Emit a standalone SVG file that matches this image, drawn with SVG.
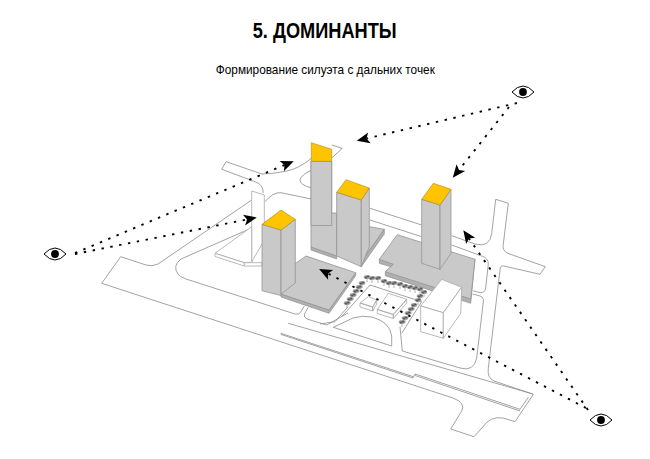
<svg xmlns="http://www.w3.org/2000/svg" width="650" height="459" viewBox="0 0 650 459">
  <style>
    text { font-family: "Liberation Sans", Arial, sans-serif; fill: #000; text-anchor: middle; }
    .road { fill: none; stroke: #8c8c8c; stroke-width: 0.8; stroke-linejoin: round; }
    .pale { fill: #fff; stroke: #a8a8a8; stroke-width: 0.8; stroke-linejoin: round; }
    .mass { fill: #c9c9c9; stroke: #949494; stroke-width: 0.8; stroke-linejoin: round; }
    .edge { fill: #b0b0b0; stroke: #8f8f8f; stroke-width: 0.7; stroke-linejoin: round; }
    .roof { fill: #ffc400; stroke: #a98b20; stroke-width: 0.6; stroke-linejoin: round; }
    .sight { fill: none; stroke: #000; stroke-width: 1.9; stroke-dasharray: 2.4 6.6; marker-end: url(#head); }
    .tree-top { fill: #5a5a5a; }
    .tree-light { fill: #a5a5a5; }
    .tree-stem { stroke: #808080; stroke-width: 0.6; }
  </style>
  <defs>
    <marker id="head" markerUnits="userSpaceOnUse" markerWidth="16" markerHeight="14" viewBox="-1 -7 16 14" refX="3" refY="0" orient="auto">
      <path d="M13 0 L0 -5.500 L3 0 L0 5.500 Z" fill="#000"/>
    </marker>
    <g id="tree">
      <line class="tree-stem" x1="0" y1="0" x2="0" y2="5"/>
      <ellipse class="tree-light" cx="0" cy="0" rx="3.300" ry="2"/>
      <ellipse class="tree-top" cx="-1" cy="0.400" rx="1.400" ry="1"/>
      <ellipse class="tree-top" cx="1.200" cy="-0.500" rx="1.300" ry="0.900"/>
    </g>
    <g id="eye-mark">
      <path d="M-11 0 Q0 -12 11 0 Q0 12 -11 0 Z" fill="#fff" stroke="#000" stroke-width="1"/>
      <circle r="3.900" fill="#000"/>
    </g>
  </defs>

  <g id="heading">
    <text x="324.700" y="37.700" font-size="22.300" font-weight="700" textLength="144" lengthAdjust="spacingAndGlyphs">5. ДОМИНАНТЫ</text>
    <text x="325.300" y="74.300" font-size="13" textLength="219" lengthAdjust="spacingAndGlyphs">Формирование силуэта с дальних точек</text>
  </g>

  <g id="street-network">
    <!-- outer carriageway, south-west to the south-east stub -->
    <path class="road" d="M251.700 200 L158 264 Q152 267 146 265 L120.700 256.700 L101.700 283.300 L453 398 Q466 403 461.700 411 L450.700 429 L474 436.700 L483 426.700 Q490 416 503 418 L515 421.700 L533.300 394.300 L494 381 Q487 378 488.300 368 L500 270 Q500 265 504 266 L540 274.300 L545.300 266.700 L507 253 Q502 250 503.300 244 L508.300 203.300 L495.700 199.300 L491.700 233.300 Q490 248 475 244 L451.700 235.700"/>
    <path class="road" d="M421.700 225 L370 208.300"/>
    <path class="road" d="M451.700 245 L481.700 256 Q488.500 258 488.300 264 L485.700 288 Q485 293 480 292.700 L472.700 290.700"/>
    <path class="road" d="M421.700 236.700 L370 220"/>
    <path class="road" d="M472.700 294 L480 296 Q484 297 483.300 302 L476.700 358 Q474 372 460 368 L402.300 351 L400 326.700"/>
    <!-- inner loop round the west podium -->
    <path class="road" d="M251.700 228 L181 259 Q172 266 178 274 Q180 277 186 279 L295 314 Q299 315 300.500 312.500 L304.300 306"/>
    <path class="road" d="M308.300 307.300 L304.500 314 Q303.500 317.500 307 319 L326.700 325 L348 313"/>
    <!-- frontage and rail strip -->
    <path class="road" d="M288.300 323.300 L533 394"/>
    <path class="road" d="M280.700 333.300 L413.300 376.700 M415 374 L520 409.300 L528.300 397.300"/>
    <path class="road" d="M280.700 334.300 L413 378 L415 374 M415 375.500 L520 411"/>
    <!-- northern spur beside the tall tower -->
    <path class="road" d="M311.700 158 Q300 168 287 171 Q276 173.500 262 174 L226 161.700 L221.700 169.300 L255 181.700 Q264 185 263 193"/>
    <path class="road" d="M331.700 145 L342.300 148.300 L331.700 158"/>
    <path class="road" d="M311.700 170 Q301 175 300 180 Q300 185 311.700 188"/>
    <path class="road" d="M265 201.700 Q273 192 281 192.700 L311.300 199"/>
    <!-- plaza kerbs -->
    <path class="road" d="M333.300 327.300 L353 318 Q362 315 372 317 Q390 322 391.700 336 L391.700 346 Z"/>
    <path class="road" d="M320 324 L335 321.700 L348 306.700"/>
    <path class="road" d="M370 285 L341.700 316.700"/>
    <path class="road" d="M370 285 L421.700 301.700 L401.700 333.300"/>
  </g>

  <g id="distant-block">
    <path class="pale" d="M251.700 191 L264.300 195 L264.300 240 L251.700 262 Z"/>
    <path class="pale" d="M215 253.300 L251.700 226.700 L251.700 262.700 L244.300 262.700 Z"/>
    <path class="pale" d="M215 253.300 L244.300 262.700 L244.300 266 L215 256.500 Z"/>
    <path class="pale" d="M244.300 266 L262 266 L262 262.700 L244.300 262.700 Z"/>
  </g>

  <g id="plaza-blocks">
    <path class="pale" d="M368.300 296.700 L376.700 300 L372.700 307 L360 303 Z M360 303 L372.700 307 L372.700 311 L360 307 Z M372.700 307 L376.700 300 L376.700 304 L372.700 311 Z"/>
    <path class="pale" d="M388.300 293.300 L406.700 299.300 L393.300 314.500 L377.300 309.500 Z M377.300 309.500 L393.300 314.500 L393.300 318.500 L377.300 313.500 Z M393.300 314.500 L406.700 299.300 L406.700 303 L393.300 318.500 Z"/>
  </g>

  <g id="tower-centre-rear">
    <path class="edge" d="M311 247 L336.700 256 L336.700 259 L311 250 Z"/>
    <path class="mass" d="M311 161.300 L331.700 161.300 L331.700 213 L336.700 213 L336.700 256 L311 247 Z"/>
    <path class="mass" d="M311 161.300 L331.700 161.300 L331.700 225.500 L311 225.500 Z"/>
    <path class="roof" d="M311.300 142.700 L331.700 149.300 L331.700 161.300 L311.300 161.300 Z"/>
  </g>

  <g id="tower-centre-front">
    <path class="mass" d="M369.300 226.700 L384.300 229.300 L361.300 262 L361.300 240 Z"/>
    <path class="edge" d="M384.300 229.300 L384.300 234 L361.300 266.700 L361.300 262 Z"/>
    <path class="mass" d="M336.700 192.300 L361.300 200 L361.300 266.700 L336.700 256 Z"/>
    <path class="mass" d="M361.300 200 L369.300 188 L369.300 246.700 L361.300 266.700 Z"/>
    <path class="roof" d="M346 179.700 L369.300 188 L361.300 200 L336.700 192.300 Z"/>
  </g>

  <g id="tower-east">
    <path class="edge" d="M379.300 259.300 L379.300 263.300 L393.300 267.500 L385.300 271.700 L385.300 275.700 L470.700 303.300 L475 259.300 Z"/>
    <path class="mass" d="M397.300 234.700 L475 259.300 L470.700 299 L385.300 271.700 L393.300 264.300 L379.300 259.300 Z"/>
    <path class="mass" d="M421.700 199.300 L440 205 L440 269.300 L421.700 263.300 Z"/>
    <path class="mass" d="M440 205 L451 189.300 L451 253.300 L440 269.300 Z"/>
    <path class="roof" d="M433.300 183.300 L451 189.300 L440 205 L421.700 199.300 Z"/>
  </g>

  <g id="tower-west">
    <path class="edge" d="M281 294 L329 310 L355.700 272.700 L355.700 275.700 L329 313.300 L281 297 Z"/>
    <path class="mass" d="M306 256 L355.700 272.700 L329 310 L281 294 L295.300 263.500 Z"/>
    <path class="mass" d="M262 224.300 L281 230 L281 295.500 L262 290.700 Z"/>
    <path class="mass" d="M281 230 L295.300 219.300 L295.300 283 L281 294 Z"/>
    <path class="roof" d="M281 210 L295.300 219.300 L281 230 L262 224.300 Z"/>
  </g>

  <g id="white-building">
    <path class="pale" d="M441.700 279.300 L461.700 287.300 L443.300 312.700 L420.700 306 Z"/>
    <path class="pale" d="M420.700 306 L443.300 312.700 L443.300 338.300 L420.700 331.700 Z"/>
    <path class="pale" d="M443.300 312.700 L461.700 287.300 L460.700 313.300 L443.300 338.300 Z"/>
  </g>

  <g id="tree-rows">
    <use href="#tree" x="367" y="277"/><use href="#tree" x="372" y="278"/><use href="#tree" x="378" y="278"/><use href="#tree" x="384" y="281"/><use href="#tree" x="389" y="283"/><use href="#tree" x="394" y="283"/><use href="#tree" x="400" y="284"/><use href="#tree" x="405" y="286"/><use href="#tree" x="410" y="287"/><use href="#tree" x="415" y="288"/><use href="#tree" x="420" y="289"/><use href="#tree" x="424" y="292"/>
    <use href="#tree" x="362" y="283"/><use href="#tree" x="359" y="287"/><use href="#tree" x="356" y="291"/><use href="#tree" x="353" y="295"/><use href="#tree" x="350" y="299"/><use href="#tree" x="347" y="303"/>
    <use href="#tree" x="420" y="296"/><use href="#tree" x="418" y="300"/><use href="#tree" x="414" y="305"/><use href="#tree" x="411" y="309"/><use href="#tree" x="408" y="313"/><use href="#tree" x="405" y="318"/><use href="#tree" x="402" y="322"/>
  </g>

  <g id="connectors">
    <path class="sight" d="M75 253 L284.500 165"/>
    <path class="sight" d="M75 254 L247 219.500"/>
    <path class="sight" d="M517 103 L366.500 138.500"/>
    <path class="sight" d="M509 107 L459 170"/>
    <path class="sight" d="M588 410 L469 238.500"/>
    <path class="sight" d="M586 408 L328 273.500"/>
  </g>

  <g id="viewpoint-west"><use href="#eye-mark" x="55" y="254"/></g>
  <g id="viewpoint-north-east"><use href="#eye-mark" x="523" y="92"/></g>
  <g id="viewpoint-south-east"><use href="#eye-mark" x="601" y="420"/></g>
</svg>
